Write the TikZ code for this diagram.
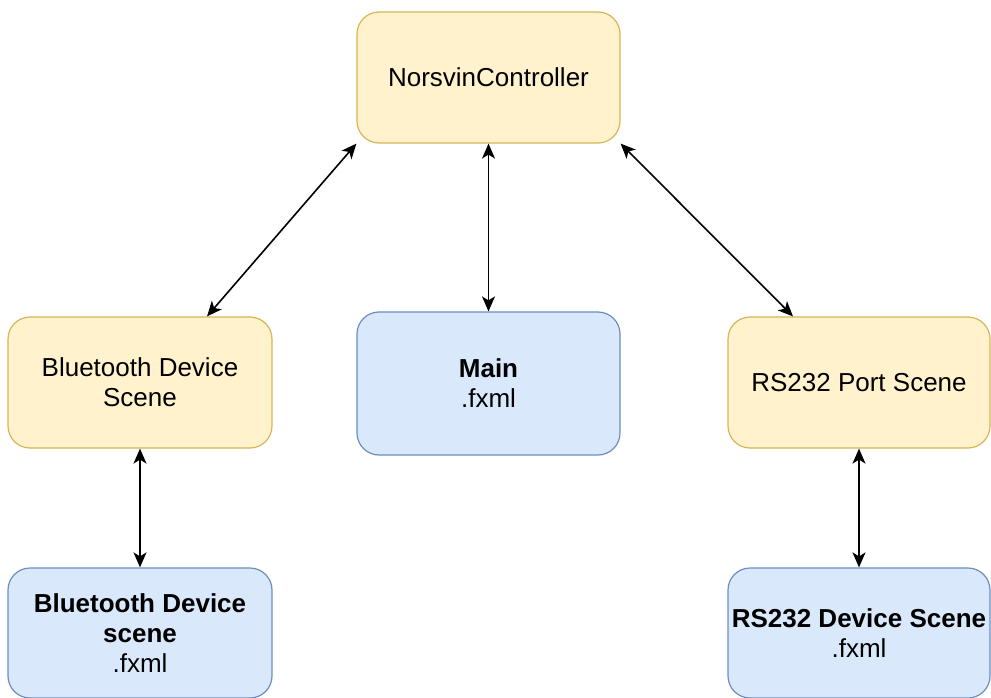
\documentclass[tikz,border=0pt]{standalone}
\usepackage{fontspec}
\setmainfont{Liberation Sans}
\usetikzlibrary{arrows.meta}
\definecolor{yfill}{HTML}{FFF2CC}
\definecolor{ydraw}{HTML}{D6B656}
\definecolor{bfill}{HTML}{DAE8FC}
\definecolor{bdraw}{HTML}{6C8EBF}
\tikzset{
  box/.style={rectangle, rounded corners=22pt, line width=1.2pt, align=center,
    font=\fontsize{26}{30}\selectfont, text=black, inner sep=0pt},
  ybox/.style={box, fill=yfill, draw=ydraw},
  bbox/.style={box, fill=bfill, draw=bdraw},
  conn/.style={line width=1.6pt, {Stealth[length=15pt,width=13pt,inset=4pt]}-{Stealth[length=15pt,width=13pt,inset=4pt]}}
}
\begin{document}
\begin{tikzpicture}[x=1pt,y=-1pt]
\useasboundingbox (0,0) rectangle (991,698);
\node[ybox, minimum width=263pt, minimum height=131pt] (nc) at (488.5,77.5) {NorsvinController};
\node[ybox, minimum width=264pt, minimum height=131pt] (bt) at (140,382.5) {Bluetooth Device\\Scene};
\node[bbox, minimum width=263pt, minimum height=143pt] (main) at (488.5,383.5) {\textbf{Main}\\.fxml};
\node[ybox, minimum width=262pt, minimum height=131pt] (rs) at (859,382.5) {RS232 Port Scene};
\node[bbox, minimum width=264pt, minimum height=130pt] (btf) at (140,633) {\textbf{Bluetooth Device}\\\textbf{scene}\\.fxml};
\node[bbox, minimum width=262pt, minimum height=130pt] (rsf) at (859,633) {\textbf{RS232 Device Scene}\\.fxml};
\draw[conn] (nc.south west) -- ([xshift=67pt]bt.north);
\draw[conn] (nc.south) -- (main.north);
\draw[conn] (nc.south east) -- ([xshift=-66pt]rs.north);
\draw[conn] (bt.south) -- (btf.north);
\draw[conn] (rs.south) -- (rsf.north);
\end{tikzpicture}
\end{document}
